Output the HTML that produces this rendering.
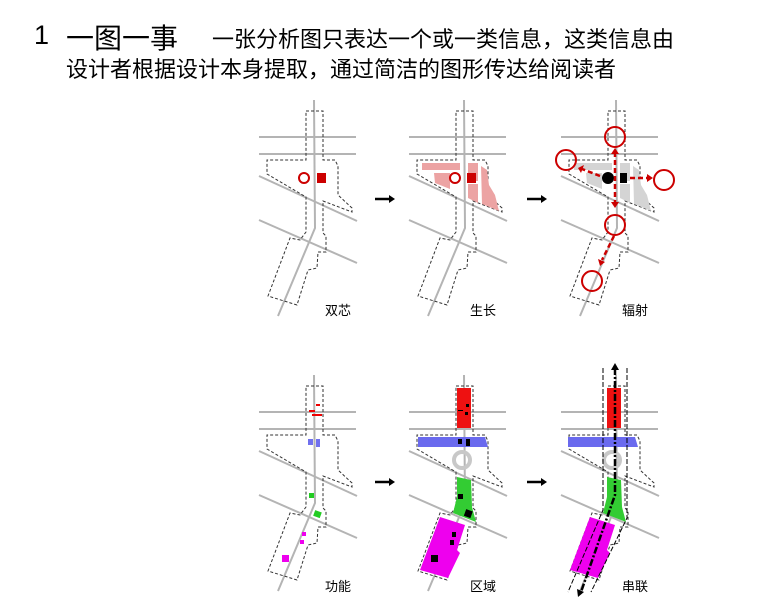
<!DOCTYPE html>
<html><head><meta charset="utf-8"><style>
html,body{margin:0;padding:0;background:#fff;}
body{width:780px;height:605px;position:relative;overflow:hidden;font-family:"Liberation Sans","Noto Sans CJK SC",sans-serif;}
.t{position:absolute;white-space:nowrap;color:#000;}
</style></head><body>
<div class="t" style="left:34px;top:20px;font-size:27px;">1</div>
<div class="t" style="left:66px;top:17px;font-size:28px;">一图一事</div>
<div class="t" style="left:212px;top:22px;font-size:22px;">一张分析图只表达一个或一类信息，这类信息由</div>
<div class="t" style="left:66px;top:52px;font-size:22px;">设计者根据设计本身提取，通过简洁的图形传达给阅读者</div>
<svg width="780" height="605" style="position:absolute;left:0;top:0" xmlns="http://www.w3.org/2000/svg">
<defs>
<g id="base">
<g stroke="#b4b4b4" stroke-width="2" fill="none">
<polyline points="314,100 315,228 278,316"/>
<line x1="259" y1="137" x2="356" y2="137"/>
<line x1="259" y1="154" x2="356" y2="154"/>
<line x1="259" y1="176" x2="357" y2="221"/>
<line x1="259" y1="220" x2="357" y2="263"/>
</g>
<polygon stroke="#333" stroke-width="1" stroke-dasharray="3,2" fill="none" points="306,111 323,111 323,160 335,160 338,166 338,195 352,208 352,212 323,201 323,233 326,236 326,252 318,252 317,268 308,270 297,305 268,296 290,238 300,240 306,232 306,197 267,174 267,160 306,160"/>
</g>
</defs>
<use href="#base"/>
<use href="#base" x="150"/>
<use href="#base" x="302"/>
<use href="#base" y="275"/>
<use href="#base" x="150" y="275"/>
<use href="#base" x="302" y="275"/>

<!-- panel1 -->
<circle cx="304" cy="178" r="5" fill="#fff" stroke="#c00" stroke-width="2"/>
<rect x="317" y="173" width="9" height="10" fill="#c00"/>
<!-- panel2 -->
<g fill="#eca3a3">
<rect x="422" y="163" width="38" height="7"/>
<polygon points="434,173 450,173 450,189 435,183"/>
<rect x="468" y="163" width="10" height="18"/>
<polygon points="468,184 478,184 478,203 468,198"/>
<polygon points="481,166 487,170 489,185 495,195 499,211 482,204"/>
</g>
<circle cx="455" cy="178" r="5" fill="#fff" stroke="#c00" stroke-width="2"/>
<rect x="467" y="173" width="9" height="10" fill="#c00"/>
<!-- panel3 -->
<g fill="#d4d4d4">
<rect x="574" y="163" width="38" height="7"/>
<polygon points="586,173 602,173 602,189 587,183"/>
<rect x="620" y="163" width="10" height="18"/>
<polygon points="620,184 630,184 630,203 620,198"/>
<polygon points="633,166 639,170 641,185 647,195 651,211 634,204"/>
</g>
<circle cx="608" cy="178" r="6" fill="#000"/>
<rect x="620" y="173" width="7" height="10" fill="#000"/>
<g stroke="#c00" stroke-width="2.5" stroke-dasharray="5,3" fill="none">
<line x1="615" y1="152" x2="615" y2="204"/>
<line x1="600" y1="176" x2="582" y2="169"/>
<line x1="630" y1="178" x2="648" y2="178"/>
<line x1="614" y1="236" x2="602" y2="260"/>
</g>
<g fill="#c00">
<polygon points="611,154 619,154 615,148"/>
<polygon points="611,202 619,202 615,208"/>
<polygon points="584,165 581,173 578,168"/>
<polygon points="647,174 647,182 653,178"/>
<polygon points="598,259 605,262 600,266"/>
</g>
<g fill="none" stroke="#c00" stroke-width="2">
<circle cx="615" cy="137" r="10"/>
<circle cx="566" cy="160" r="10"/>
<circle cx="664" cy="180" r="10"/>
<circle cx="615" cy="225" r="10"/>
<circle cx="592" cy="281" r="10"/>
</g>

<!-- panel4 -->
<g fill="#e00">
<rect x="316" y="404" width="4" height="2"/><rect x="309" y="410" width="6" height="2"/><rect x="312" y="414" width="10" height="2"/>
</g>
<rect x="308" y="439" width="5" height="6" fill="#7070ee"/>
<rect x="316" y="439" width="4" height="8" fill="#7070ee"/>
<rect x="309" y="493" width="5" height="5" fill="#22cc22"/>
<rect x="314" y="511" width="7" height="6" fill="#22cc22" transform="rotate(20 317 514)"/>
<rect x="302" y="532" width="4" height="4" fill="#ee00ee"/>
<rect x="300" y="540" width="4" height="4" fill="#ee00ee"/>
<rect x="282" y="555" width="7" height="7" fill="#ee00ee"/>

<!-- panel5 & 6 shapes -->
<g id="zones">
<rect x="457" y="388" width="14" height="40" fill="#ee1111"/>
<polygon points="418,437 485,437 488,447 418,447" fill="#6a6aee"/>
<circle cx="462" cy="460" r="8" fill="none" stroke="#c8c8c8" stroke-width="4"/>
<polygon points="457,477 471,480 472,507 476,522 453,513 457,497" fill="#33cc33"/>
<polygon points="440,517 465,525 457,550 460,553 448,578 420,570" fill="#ee00ee"/>
</g>
<use href="#zones" x="150"/>
<g fill="#000">
<rect x="466" y="404" width="3" height="3"/><rect x="465" y="412" width="3" height="3"/><rect x="458" y="410" width="5" height="1"/>
<rect x="458" y="439" width="4" height="5"/><rect x="466" y="439" width="4" height="7"/>
<rect x="458" y="494" width="5" height="5"/>
<rect x="465" y="510" width="7" height="7" transform="rotate(20 468 513)"/>
<rect x="452" y="532" width="4" height="5"/><rect x="450" y="540" width="4" height="5"/>
<rect x="431" y="555" width="7" height="7"/>
</g>
<!-- panel6 lines -->
<g fill="none" stroke="#000">
<polyline points="615,368 615,495 581,592" stroke-width="2.5" stroke-dasharray="7,2,2,2"/>
<polyline points="603,368 603,510 568,592" stroke-width="1" stroke-dasharray="5,2"/>
<polyline points="627,368 627,518 591,592" stroke-width="1" stroke-dasharray="5,2"/>
</g>
<polygon points="611,370 619,370 615,363" fill="#000"/>
<polygon points="577,589 584,592 578,597" fill="#000"/>

<g stroke="#000" stroke-width="2.5">
<line x1="375" y1="199" x2="391" y2="199"/><line x1="527" y1="199" x2="543" y2="199"/>
<line x1="375" y1="482" x2="391" y2="482"/><line x1="527" y1="482" x2="543" y2="482"/>
</g>
<g fill="#000">
<polygon points="389,195 395,199 389,203"/><polygon points="541,195 547,199 541,203"/>
<polygon points="389,478 395,482 389,486"/><polygon points="541,478 547,482 541,486"/>
</g>
<g font-size="13" fill="#000" font-family="Liberation Sans,Noto Sans CJK SC,sans-serif">
<text x="325" y="315">双芯</text>
<text x="470" y="315">生长</text>
<text x="622" y="315">辐射</text>
<text x="325" y="591">功能</text>
<text x="470" y="591">区域</text>
<text x="622" y="591">串联</text>
</g>
</svg>
</body></html>
